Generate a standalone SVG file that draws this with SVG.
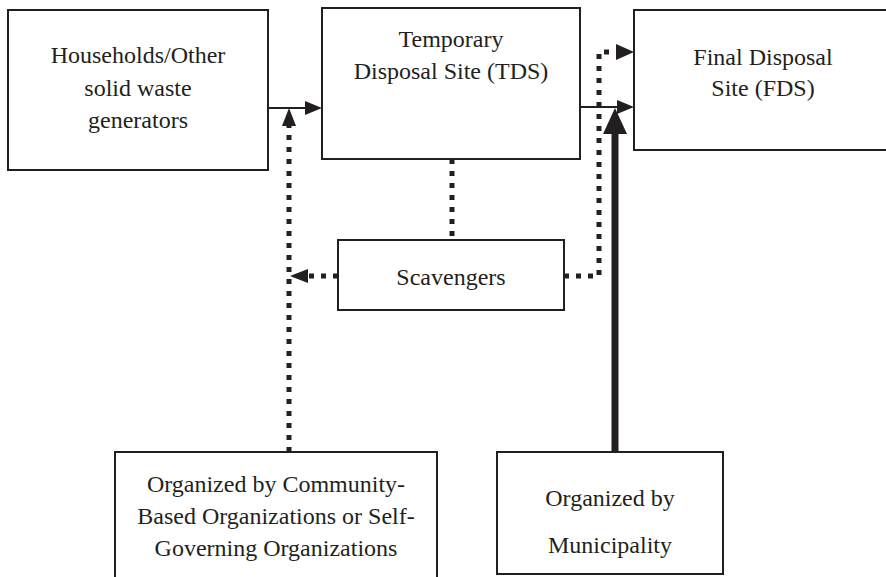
<svg xmlns="http://www.w3.org/2000/svg" width="886" height="577" viewBox="0 0 886 577">
<style>
.box{fill:#fff;stroke:#231f20;stroke-width:2}
.solid{stroke:#231f20;stroke-width:2;fill:none}
.dot{stroke:#231f20;stroke-width:5;stroke-dasharray:5 7;fill:none}
.thick{stroke:#231f20;stroke-width:7;fill:none}
.head{fill:#231f20}
</style>
<rect width="886" height="577" fill="#fff"/>
<g font-family="Liberation Serif, Tinos, DejaVu Serif, serif" font-size="24" fill="#231f20" text-anchor="middle">
<g id="households">
<rect class="box" x="8" y="10" width="260" height="160"/>
<text x="138" y="63">Households/Other</text>
<text x="138" y="96">solid waste</text>
<text x="138" y="128">generators</text>
</g>
<g id="tds">
<rect class="box" x="322" y="8" width="258" height="151"/>
<text x="451" y="47">Temporary</text>
<text x="451" y="79">Disposal Site (TDS)</text>
</g>
<g id="fds">
<rect class="box" x="634" y="10" width="270" height="140"/>
<text x="763" y="65">Final Disposal</text>
<text x="763" y="96">Site (FDS)</text>
</g>
<g id="scavengers">
<rect class="box" x="338" y="240" width="226" height="70"/>
<text x="451" y="285">Scavengers</text>
</g>
<g id="cbo">
<rect class="box" x="115" y="452" width="322" height="140"/>
<text x="276" y="492">Organized by Community-</text>
<text x="276" y="524">Based Organizations or Self-</text>
<text x="276" y="556">Governing Organizations</text>
</g>
<g id="municipality">
<rect class="box" x="497" y="452" width="226" height="122"/>
<text x="610" y="506">Organized by</text>
<text x="610" y="553">Municipality</text>
</g>
</g>
<g id="connectors">
<line class="solid" x1="268" y1="108" x2="306" y2="108"/>
<polygon class="head" points="322,108 305,101 305,115"/>
<line class="solid" x1="580" y1="107" x2="618" y2="107"/>
<polygon class="head" points="634,107 617,100 617,114"/>
<path class="dot" d="M289 452 V124"/>
<polygon class="head" points="289,108 282,126 296,126"/>
<path class="dot" d="M452 159 V240"/>
<path class="dot" d="M338 276 H306"/>
<polygon class="head" points="290,276 308,269 308,283"/>
<path class="dot" d="M564 276 H599 V52 H616"/>
<polygon class="head" points="634,52 616,44 616,60"/>
<path class="thick" d="M615 452 V128"/>
<polygon class="head" points="615,108 603,134 627,134"/>
</g>
</svg>
